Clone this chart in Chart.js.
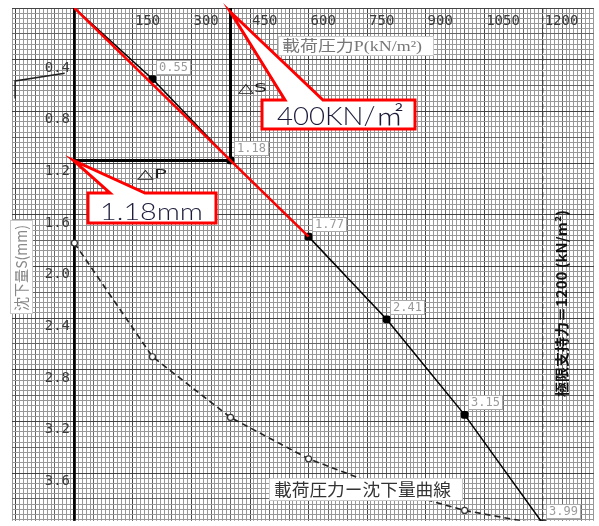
<!DOCTYPE html>
<html><head><meta charset="utf-8">
<script src="https://cdn.jsdelivr.net/npm/chart.js@4.4.1/dist/chart.umd.min.js"></script>
<style>html,body{margin:0;padding:0;background:#fff;overflow:hidden}canvas{display:block}</style>
</head><body>
<canvas id="c" width="599" height="526"></canvas>
<script>
// ---- data ----
const loadPressure = [0, 200, 400, 600, 800, 1000, 1200];          // kN/m2
const settlement = [0, 0.55, 1.18, 1.77, 2.41, 3.15, 3.99];         // mm
const settlementLabels = ['', '0.55', '1.18', '1.77', '2.41', '3.15', '3.99'];
const curvePressure = [0, 200, 400, 600, 800, 1000, 1200];
const curveSettlement = [1.82, 2.70, 3.17, 3.49, 3.72, 3.89, 4.00];
const tangentPressure = [0, 600];
const tangentSettlement = [0, 1.77];
const deltaPressure = [0, 400, 400];
const deltaSettlement = [1.18, 1.18, 0];
const ultimateBearing = 1200;
const strayPressure = [-152, -152, -25];
const straySettlement = [0.70, 0.565, 0.505];
const xTickValues = [150, 300, 450, 600, 750, 900, 1050, 1200];
const xTickLabels = ['150', '300', '450', '600', '750', '900', '1050', '1200'];
const yTickValues = [0.4, 0.8, 1.2, 1.6, 2.0, 2.4, 2.8, 3.2, 3.6];
const yTickLabels = ['0.4', '0.8', '1.2', '1.6', '2.0', '2.4', '2.8', '3.2', '3.6'];
const xAxisTitle = '載荷圧力P(kN/m²)';
const yAxisTitle = '沈下量S(mm)';
const limitText = '極限支持力＝1200 (kN/m²)';
const curveTitle = '載荷圧力ー沈下量曲線';
const calloutP = '400KN/㎡';
const calloutS = '1.18mm';

const X_MIN = -160, X_MAX = 1331, Y_MIN = 0, Y_MAX = 3.97;

const pts = (xs, ys) => xs.map((x, i) => ({x: x, y: ys[i]}));

function fitText(ctx, text, x, y, w, font) {
  ctx.font = font;
  const m = ctx.measureText(text).width;
  ctx.save(); ctx.translate(x, y); ctx.scale(w / m, 1);
  ctx.textAlign = 'left'; ctx.fillText(text, 0, 0); ctx.restore();
}
function callout(ctx, bx, by, bw, bh, b0, b1, tx, ty) {
  ctx.beginPath();
  ctx.moveTo(bx, by); ctx.lineTo(b0, by); ctx.lineTo(tx, ty); ctx.lineTo(b1, by);
  ctx.lineTo(bx + bw, by); ctx.lineTo(bx + bw, by + bh); ctx.lineTo(bx, by + bh); ctx.closePath();
  ctx.fillStyle = '#fff'; ctx.fill();
  ctx.lineWidth = 3; ctx.strokeStyle = '#ff0000'; ctx.lineJoin = 'miter'; ctx.stroke();
}

const annot = {
  id: 'annot',
  afterDatasetsDraw(chart) {
    const ctx = chart.ctx, xs = chart.scales.x, ys = chart.scales.y;
    ctx.save();
    // tick labels
    ctx.fillStyle = '#3a3a3a'; ctx.font = '14px "DejaVu Sans Mono"'; ctx.textBaseline = 'middle';
    ctx.textAlign = 'left';
    xTickValues.forEach((v, i) => ctx.fillText(xTickLabels[i], xs.getPixelForValue(v) + 2, 21));
    ctx.textAlign = 'right';
    yTickValues.forEach((v, i) => ctx.fillText(yTickLabels[i], 70, ys.getPixelForValue(v) + 8.5));
    // data labels
    ctx.font = '12px "DejaVu Sans Mono"'; ctx.textAlign = 'center';
    loadPressure.forEach((p, i) => {
      if (!settlementLabels[i]) return;
      const px = xs.getPixelForValue(p), py = ys.getPixelForValue(settlement[i]);
      const bx = Math.round(px + 3.5) + 0.5, by = Math.round(py - 19.5) + 0.5;
      ctx.fillStyle = '#fff'; ctx.fillRect(bx, by, 34, 14);
      ctx.strokeStyle = '#aaa'; ctx.lineWidth = 1; ctx.strokeRect(bx, by, 34, 14);
      ctx.fillStyle = '#9a9a9a'; ctx.fillText(settlementLabels[i], bx + 17, by + 7.5);
    });
    // delta labels
    ctx.fillStyle = '#222'; ctx.textBaseline = 'alphabetic';
    fitText(ctx, '△S', 238, 92, 29, '13px "DejaVu Sans"');
    fitText(ctx, '△P', 137, 178, 30, '13px "DejaVu Sans"');
    // axis title box (x)
    ctx.fillStyle = '#fff'; ctx.fillRect(278.5, 36.5, 155, 19);
    ctx.strokeStyle = '#c8c8c8'; ctx.lineWidth = 1; ctx.strokeRect(278.5, 36.5, 155, 19);
    ctx.fillStyle = '#777';
    fitText(ctx, xAxisTitle, 282, 51, 140, '15px "Liberation Serif", "Noto Sans CJK JP"');
    // y title (rotated)
    ctx.fillStyle = '#fff'; ctx.fillRect(10.5, 220.5, 22, 93);
    ctx.strokeStyle = '#c8c8c8'; ctx.strokeRect(10.5, 220.5, 22, 93);
    ctx.save(); ctx.translate(27, 311); ctx.rotate(-Math.PI / 2);
    ctx.fillStyle = '#888';
    fitText(ctx, yAxisTitle, 0, 0, 86, '15px "Noto Sans CJK JP"');
    ctx.restore();
    // limit text (rotated)
    ctx.save(); ctx.translate(567, 397); ctx.rotate(-Math.PI / 2);
    ctx.fillStyle = '#111';
    fitText(ctx, limitText, 0, 0, 187, 'bold 14px "Noto Sans CJK JP"');
    ctx.restore();
    // curve title box
    ctx.fillStyle = '#fff'; ctx.fillRect(269.5, 478.5, 193, 22);
    ctx.strokeStyle = '#c8c8c8'; ctx.strokeRect(269.5, 478.5, 193, 22);
    ctx.fillStyle = '#333';
    fitText(ctx, curveTitle, 274, 496, 177, '17px "Noto Sans CJK JP"');
    // callouts
    const tip1x = xs.getPixelForValue(400), tip1y = ys.getPixelForValue(0) + 4;
    callout(ctx, 262, 100, 153, 29, 285, 323, tip1x, tip1y);
    ctx.fillStyle = '#1c1c3a';
    fitText(ctx, calloutP, 277, 125, 126, '300 25px Lato, "Noto Sans CJK JP"');
    const tip2x = xs.getPixelForValue(0) - 1, tip2y = ys.getPixelForValue(1.18);
    callout(ctx, 88, 193, 128, 30, 110, 145, tip2x, tip2y);
    ctx.fillStyle = '#1c1c3a';
    fitText(ctx, calloutS, 100, 220, 103, '300 24px Lato');
    ctx.restore();
  }
};

new Chart(document.getElementById('c'), {
  type: 'scatter',
  data: {
    datasets: [
      { data: pts(tangentPressure, tangentSettlement), showLine: true, borderColor: '#ff0000', borderWidth: 2.5, pointRadius: 0, order: 0 },
      { data: pts(deltaPressure, deltaSettlement), showLine: true, borderColor: '#000', borderWidth: 3, pointRadius: 0, order: 1 },
      { data: pts(loadPressure, settlement), showLine: true, borderColor: '#000', borderWidth: 1.5,
        pointStyle: 'rectRounded', pointRadius: c => c.dataIndex === 0 ? 0 : 4.5, backgroundColor: '#000', pointBorderWidth: 0, order: 2 },
      { data: pts(curvePressure, curveSettlement), showLine: true, borderColor: '#222', borderWidth: 1.6, borderDash: [6, 4],
        pointRadius: 3, pointBackgroundColor: '#fff', pointBorderColor: '#333', pointBorderWidth: 1.2, order: 3 },
      { data: [{x: ultimateBearing, y: Y_MIN}, {x: ultimateBearing, y: Y_MAX}], showLine: true, borderColor: '#444', borderWidth: 1.3, borderDash: [5, 3], pointRadius: 0, order: 4 },
      { data: [{x: 0, y: Y_MIN}, {x: 0, y: Y_MAX}], showLine: true, borderColor: '#000', borderWidth: 2.5, pointRadius: 0, order: 4 },
      { data: pts(strayPressure, straySettlement), showLine: true, borderColor: '#222', borderWidth: 1.5, pointRadius: 0, order: 5 }
    ]
  },
  options: {
    responsive: false, animation: false, devicePixelRatio: 1,
    layout: { padding: { left: 12, top: 8, right: 0, bottom: 0 } },
    plugins: { legend: { display: false }, tooltip: { enabled: false } },
    scales: {
      x: {
        type: 'linear', position: 'top', min: X_MIN, max: X_MAX,
        afterBuildTicks: s => { const t = []; for (let v = -160; v <= 1330; v += 10) t.push({value: v}); s.ticks = t; },
        ticks: { display: false }, border: { display: false },
        grid: { drawTicks: false,
          color: c => { const v = c.tick.value; return v === 0 ? '#000' : (v % 150 === 0 ? '#444' : (v % 50 === 0 ? '#666' : '#989898')); },
          lineWidth: c => c.tick.value === 0 ? 2.5 : 1 }
      },
      y: {
        type: 'linear', reverse: true, min: Y_MIN, max: Y_MAX,
        afterBuildTicks: s => { const t = []; for (let i = 0; i < 100; i++) t.push({value: Math.round(i * 4) / 100}); s.ticks = t; },
        ticks: { display: false }, border: { display: false },
        grid: { drawTicks: false,
          color: c => { const i = Math.round(c.tick.value * 25); return i % 10 === 0 ? '#444' : (i % 5 === 0 ? '#666' : '#989898'); },
          lineWidth: 1 }
      }
    }
  },
  plugins: [annot]
});
</script>
</body></html>
